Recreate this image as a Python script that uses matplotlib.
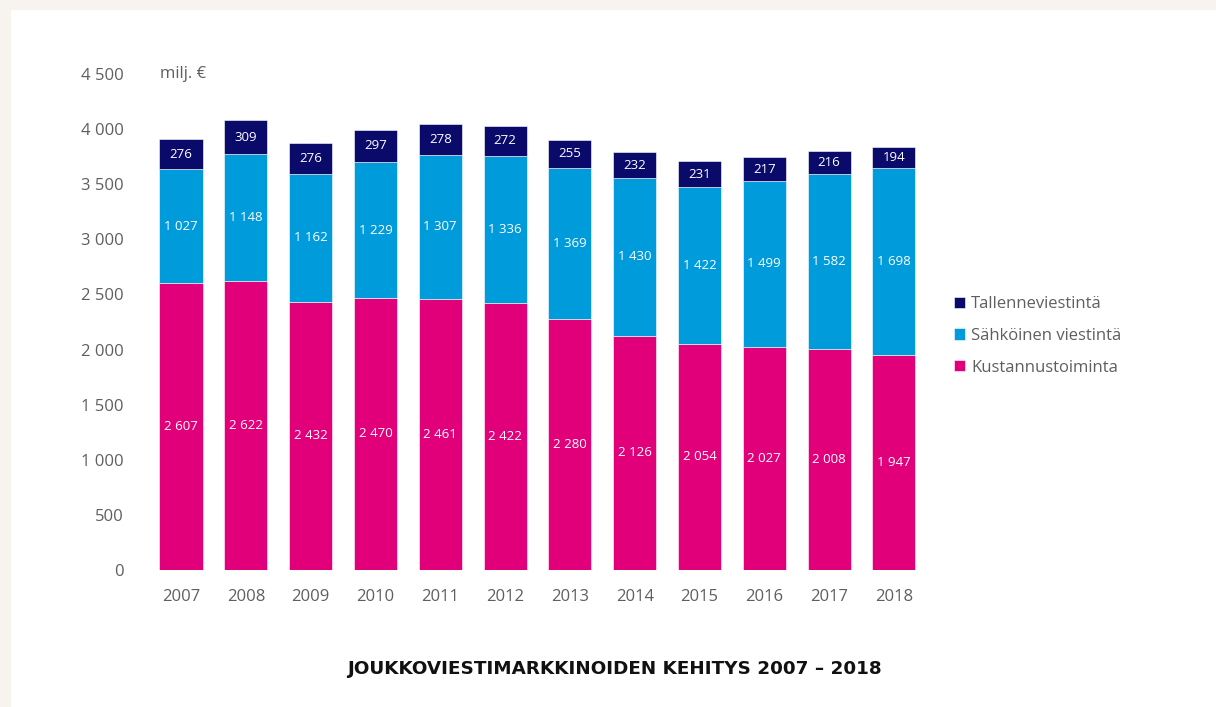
import matplotlib.pyplot as plt
import matplotlib.patches as mpatches
import numpy as np

vuodet = ['2007', '2008', '2009', '2010', '2011', '2012',
          '2013', '2014', '2015', '2016', '2017', '2018']
kustannus = [2607, 2622, 2432, 2470, 2461, 2422, 2280, 2126, 2054, 2027, 2008, 1947]
sahkoinen = [1027, 1148, 1162, 1229, 1307, 1336, 1369, 1430, 1422, 1499, 1582, 1698]
tallenne = [276, 309, 276, 297, 278, 272, 255, 232, 231, 217, 216, 194]

sarjat = ['Kustannustoiminta', 'Sähköinen viestintä', 'Tallenneviestintä']
varit = ['#e2007a', '#009bdb', '#0a0a6b']
y_ticks = [0, 500, 1000, 1500, 2000, 2500, 3000, 3500, 4000, 4500]
y_labels = ['0', '500', '1 000', '1 500', '2 000', '2 500', '3 000', '3 500', '4 000', '4 500']

plt.rcParams['font.family'] = ['Open Sans', 'DejaVu Sans']

fig = plt.figure(figsize=(12.16, 7.07), dpi=100)
fig.patch.set_facecolor('white')

# beige reunat ylhäällä ja vasemmalla
beige = '#f7f4ef'
fig.patches.append(mpatches.Rectangle((0, 1 - 9/707), 1, 9/707, transform=fig.transFigure,
                                      color=beige, zorder=0))
fig.patches.append(mpatches.Rectangle((0, 0), 10/1216, 1, transform=fig.transFigure,
                                      color=beige, zorder=0))

ax = fig.add_axes([0.1222, 0.1938, 0.6396, 0.7015])
x = np.arange(len(vuodet))
leveys = 0.665
harmaa = '#5f5f5f'


def muotoile(v):
    return f'{v:,}'.replace(',', ' ')


pohja = np.zeros(len(vuodet))
for arvot, nimi, vari in zip([kustannus, sahkoinen, tallenne], sarjat, varit):
    arvot = np.array(arvot)
    ax.bar(x, arvot, leveys, bottom=pohja, color=vari, label=nimi,
           edgecolor='white', linewidth=0.4)
    for xi, b, v in zip(x, pohja, arvot):
        ax.text(xi, b + v / 2, muotoile(v), ha='center', va='center',
                color='white', fontsize=9.5)
    pohja = pohja + arvot

ax.set_xlim(-0.5, len(vuodet) - 0.5)
ax.set_ylim(0, 4500)
ax.set_xticks(x)
ax.set_xticklabels(vuodet)
ax.set_yticks(y_ticks)
ax.set_yticklabels(y_labels)
ax.tick_params(axis='both', length=0, labelsize=12, colors=harmaa)
ax.tick_params(axis='x', pad=14)
ax.tick_params(axis='y', pad=18)
for s in ax.spines.values():
    s.set_visible(False)

ax.text(-0.33, 4500, 'milj. €', ha='left', va='center', fontsize=12, color=harmaa)

kahvat, nimet = ax.get_legend_handles_labels()
leg = fig.legend(kahvat[::-1], nimet[::-1], loc='center left',
                 bbox_to_anchor=(0.772, 0.525), frameon=False, fontsize=12,
                 handlelength=0.65, handleheight=0.65, handletextpad=0.4,
                 labelspacing=0.95, labelcolor=harmaa)

fig.text(0.505, 0.054, 'JOUKKOVIESTIMARKKINOIDEN KEHITYS 2007 – 2018',
         ha='center', va='center', fontsize=13.2, fontweight='bold',
         family=['DejaVu Sans'], color='#111111')

plt.savefig('out.png', dpi=100)
